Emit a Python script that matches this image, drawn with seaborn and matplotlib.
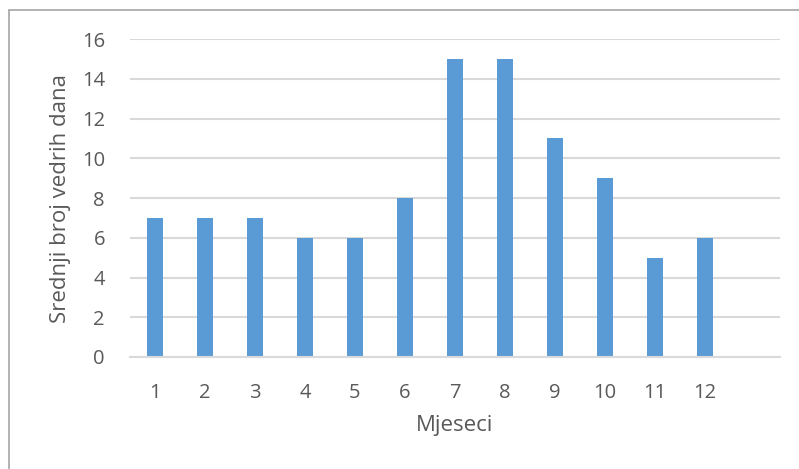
import seaborn as sns
import matplotlib.pyplot as plt
import pandas as pd
from matplotlib.lines import Line2D

months = ['1', '2', '3', '4', '5', '6', '7', '8', '9', '10', '11', '12']
clear_days = [7, 7, 7, 6, 6, 8, 15, 15, 11, 9, 5, 6]

df = pd.DataFrame({'Mjesec': months, 'Dani': clear_days})

sns.set_theme(style='white')
plt.rcParams['font.family'] = ['Open Sans', 'DejaVu Sans']
text_col = '#595959'

fig = plt.figure(figsize=(7.99, 4.69), dpi=100)
ax = fig.add_axes([130 / 799, 1 - 357 / 469, 650 / 799, 318 / 469])

sns.barplot(data=df, x='Mjesec', y='Dani', order=months, color='#5b9bd5',
            width=0.31, linewidth=0, saturation=1, ax=ax)

ax.set_xlim(-0.5, 12.5)
ax.set_ylim(0, 16)
ax.set_yticks(range(0, 17, 2))
ax.grid(axis='y', color='#d9d9d9', linewidth=1.5)
ax.set_axisbelow(True)
for side in ['top', 'right', 'left']:
    ax.spines[side].set_visible(False)
ax.spines['bottom'].set_color('#d9d9d9')
ax.spines['bottom'].set_linewidth(1.5)

ax.tick_params(axis='both', length=0, labelsize=14.5, colors=text_col)
ax.tick_params(axis='x', pad=19)
ax.tick_params(axis='y', pad=18)
ax.set_xlabel('Mjeseci', fontsize=16, color=text_col, labelpad=8)
ax.set_ylabel('Srednji broj vedrih dana', fontsize=16, color=text_col, labelpad=8)

# chart frame (only left and top edges visible in the crop)
fx, fy = 9 / 799, 1 - 10 / 469
fig.add_artist(Line2D([fx, fx], [0, fy], color='#a6a6a6', lw=1.2))
fig.add_artist(Line2D([fx, 1], [fy, fy], color='#a6a6a6', lw=1.2))

fig.savefig('out.png', dpi=100)
